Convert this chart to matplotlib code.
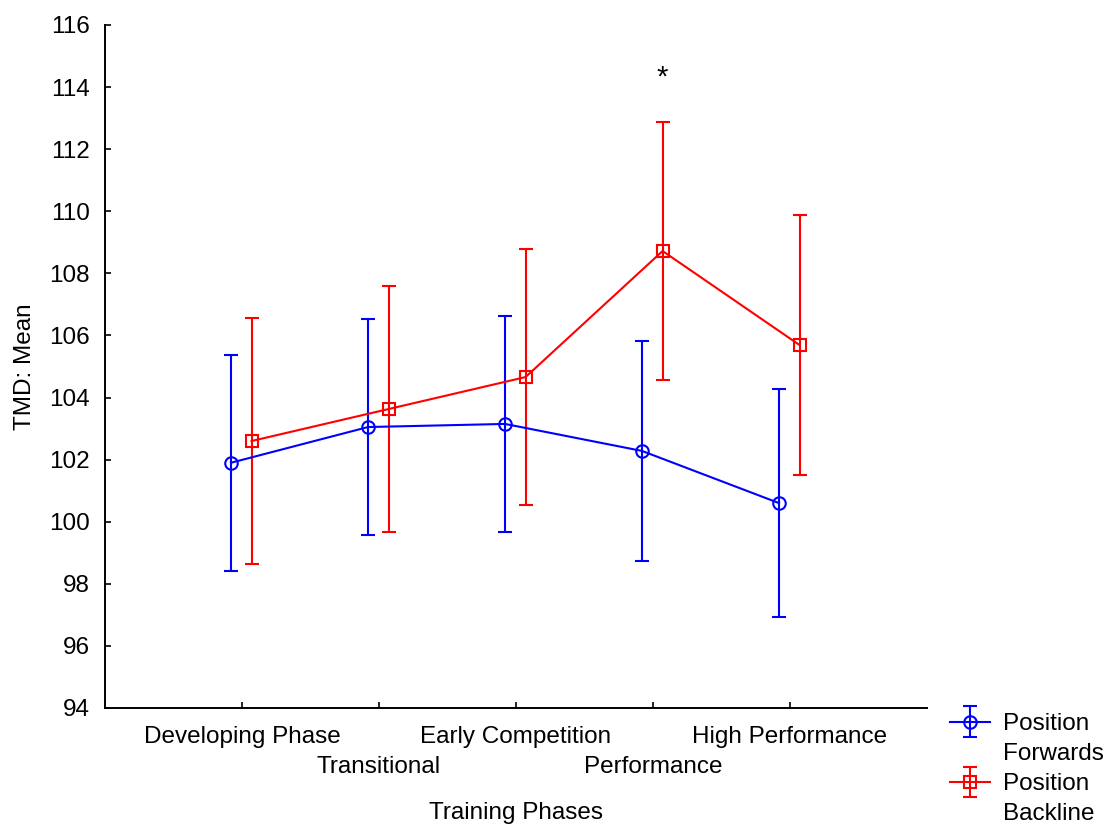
import numpy as np
import matplotlib.pyplot as plt
from matplotlib.lines import Line2D
from matplotlib.legend_handler import HandlerErrorbar

plt.rcParams['font.family'] = ['Liberation Sans', 'DejaVu Sans']

phases = ['Developing Phase', 'Transitional', 'Early Competition', 'Performance', 'High Performance']

# means and half-widths of the confidence intervals
forwards_mean = [101.9, 103.05, 103.15, 102.28, 100.6]
forwards_err = [3.48, 3.48, 3.48, 3.55, 3.67]
backline_mean = [102.6, 103.63, 104.66, 108.72, 105.69]
backline_err = [3.95, 3.95, 4.12, 4.17, 4.2]

FS = 17.5
x = np.arange(1, len(phases) + 1)

fig = plt.figure(figsize=(11.05, 8.25), dpi=100)
ax = fig.add_axes([105 / 1105, 1 - 708 / 825, 822 / 1105, 683 / 825])

fw = ax.errorbar(x - 0.08, forwards_mean, yerr=forwards_err, color='#0000ff',
                 marker='o', mfc='none', mec='#0000ff', ms=9, mew=1.5,
                 lw=1.5, elinewidth=1.5, capsize=5, capthick=1.5)
bk = ax.errorbar(x + 0.07, backline_mean, yerr=backline_err, color='#ff0000',
                 marker='s', mfc='none', mec='#ff0000', ms=8.5, mew=1.5,
                 lw=1.5, elinewidth=1.5, capsize=5, capthick=1.5)

# significance mark above the Performance phase
ax.text(4 + 0.07, 114.3, '*', ha='center', va='center', fontsize=21)

ax.set_xlim(0, 6)
ax.set_ylim(94, 116)
ax.set_yticks(np.arange(94, 117, 2))
ax.set_xticks(x)
ax.set_xticklabels(phases)
ax.tick_params(axis='both', direction='in', length=4, width=1.2, labelsize=FS)
ax.tick_params(axis='y', pad=11)
# stagger the phase names on two rows
for i, tick in enumerate(ax.xaxis.get_major_ticks()):
    tick.set_pad(13 if i % 2 == 0 else 34.5)

for s in ['top', 'right']:
    ax.spines[s].set_visible(False)
for s in ['left', 'bottom']:
    ax.spines[s].set_linewidth(1.4)

ax.set_ylabel('TMD: Mean', fontsize=FS, labelpad=9)
ax.set_xlabel('Training Phases', fontsize=FS, labelpad=17)

blank = Line2D([], [], linestyle='none')
fig.legend([fw, blank, bk, blank], ['Position', 'Forwards', 'Position', 'Backline'],
           loc='upper left', bbox_to_anchor=(950 / 1105, 1 - 713 / 825),
           frameon=False, fontsize=FS, handlelength=1.65, handletextpad=0.55,
           labelspacing=0.33, borderpad=0, borderaxespad=0,
           handler_map={type(fw): HandlerErrorbar(xerr_size=0.5, yerr_size=0.62)})

plt.savefig('out.png', dpi=100)
